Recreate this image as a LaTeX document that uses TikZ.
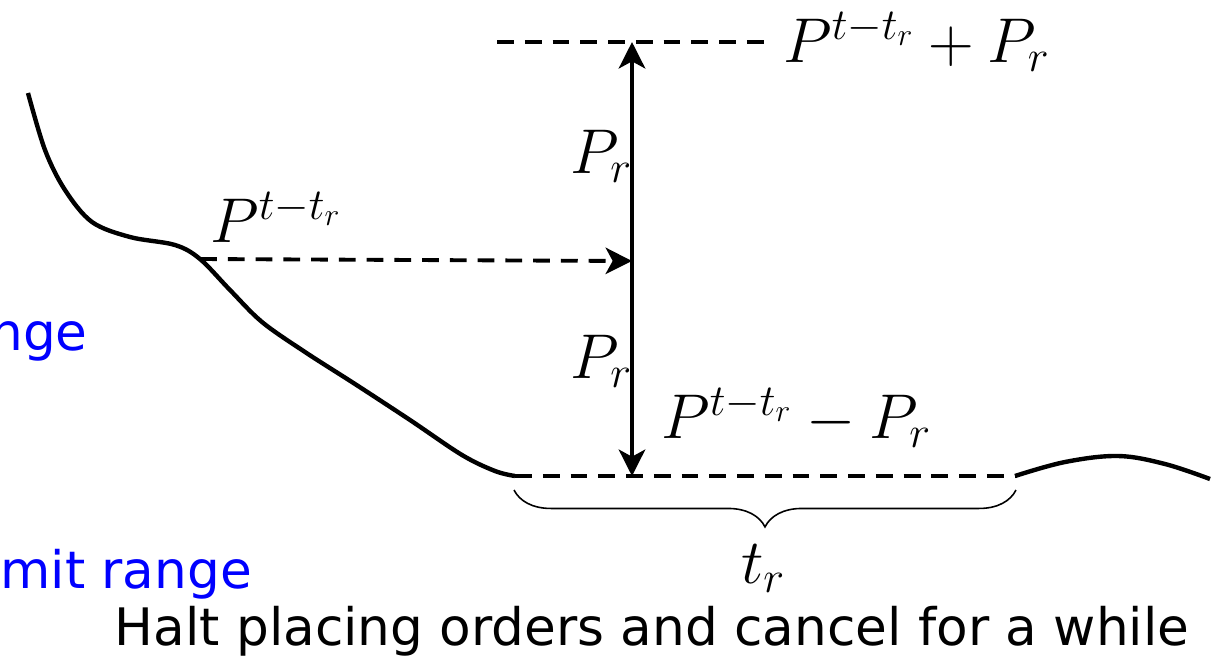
\RequirePackage{fix-cm}
\documentclass[tikz,border=0pt]{standalone}
\usepackage{fontspec}
\setsansfont{DejaVu Sans}
\usetikzlibrary{arrows.meta,decorations.pathreplacing}

\begin{document}
\begin{tikzpicture}[
    x=0.02cm, y=-0.02cm,
    price/.style={line width=2.5pt, line join=round},
    level/.style={line width=2.2pt, dash pattern=on 9.6pt off 6.2pt},
    arrow/.style={-{Stealth[length=15pt, width=15pt, inset=4pt]}, line width=2.5pt},
    dasharrow/.style={-{Stealth[length=15pt, width=15pt, inset=4pt]}, line width=2.2pt, dash pattern=on 9.6pt off 6.2pt},
    mathlabel/.style={font=\fontsize{36}{42}\selectfont, inner sep=0pt},
    textlabel/.style={font=\sffamily\fontsize{29.4}{34}\selectfont, inner sep=0pt},
    rangelabel/.style={textlabel, text=blue},
    bracket/.style={line width=0.9pt, decorate, decoration={brace, amplitude=21pt}}
  ]
    \useasboundingbox (0,0) rectangle (1220,657);

    % price levels
    \coordinate (start) at (200,259);
    \coordinate (mid) at (632,261);
    \coordinate (top) at (632,42);
    \coordinate (bot) at (632,476);
    \coordinate (topl) at (497,42);
    \coordinate (topr) at (765,42);
    \coordinate (botl) at (515,476);
    \coordinate (botr) at (1015,476);
    \coordinate (braceL) at (514,490);
    \coordinate (braceR) at (1016,490);

    % price curve
    \draw[price] plot[smooth, tension=0.55] coordinates {(28,93) (45,150) (65,190) (92,222) (130,237) (175,245) (start) (230,290) (262,322) (305,352) (355,384) (410,420) (462,455) (495,471) (botl)};
    \draw[price] plot[smooth, tension=0.6] coordinates {(botr) (1065,462) (1118,456) (1165,464) (1210,479)};

    \draw[level] (topl) -- (topr);
    \draw[level] (botl) -- (botr);
    \draw[dasharrow] (start) -- (mid);
    \draw[arrow] (mid) -- (top);
    \draw[arrow] (mid) -- (bot);
    \draw[bracket] (braceR) -- (braceL);

    % labels
    \node[mathlabel, anchor=base west] (upper) at (783,62) {$P^{t-t_r}+P_r$};
    \node[mathlabel, anchor=base west] (lower) at (661,438) {$P^{t-t_r}-P_r$};
    \node[mathlabel, anchor=base west] (prev) at (210,242) {$P^{t-t_r}$};
    \node[mathlabel, anchor=base west] (up) at (570,173) {$P_r$};
    \node[mathlabel, anchor=base west] (down) at (570,378) {$P_r$};
    \node[mathlabel, anchor=base] (dur) at (763,583) {$t_r$};
    \node[rangelabel, anchor=base east] (nge) at (88,350) {nge};
    \node[rangelabel, anchor=base west] (limit) at (0,588) {mit range};
    \node[textlabel, anchor=base] (halt) at (652,645) {Halt placing orders and cancel for a while};
\end{tikzpicture}
\end{document}
